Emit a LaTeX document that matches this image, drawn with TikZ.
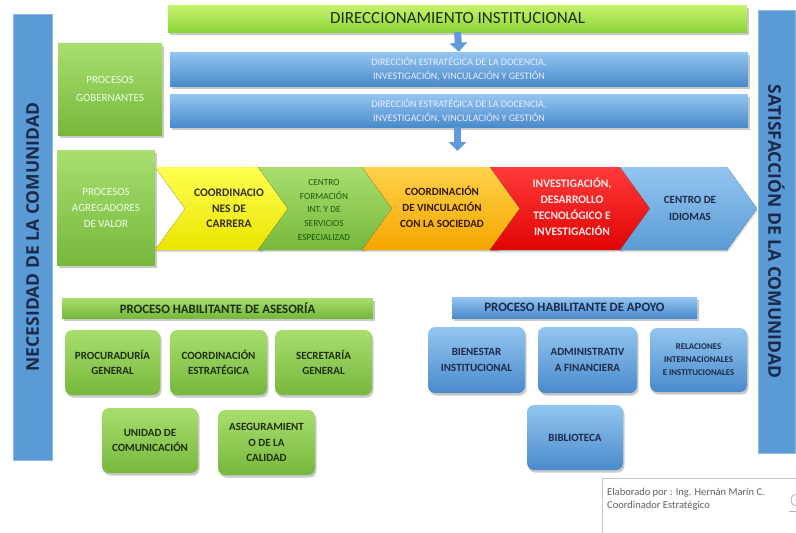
\documentclass[tikz,border=0pt]{standalone}
\usepackage{fontspec}
\setmainfont{Carlito}
\newfontfamily\widefont{Open Sans}
\usetikzlibrary{shadows,arrows.meta}
\newcommand\fsz[2]{\fontsize{#1}{#2}\selectfont}
\definecolor{barblue}{HTML}{5B9BD5}
\definecolor{navy}{HTML}{1B2A4A}
\definecolor{gtop}{HTML}{A9DE6E}
\definecolor{gbot}{HTML}{76B83C}
\definecolor{ltop}{HTML}{C8F26C}
\definecolor{lbot}{HTML}{8CD63A}
\definecolor{btop}{HTML}{93C6F0}
\definecolor{bbot}{HTML}{4A8ACB}
\definecolor{darkg}{HTML}{1F2E10}
\definecolor{ytop}{HTML}{FFFF50}
\definecolor{ybot}{HTML}{EAE400}
\definecolor{otop}{HTML}{FFD24A}
\definecolor{obot}{HTML}{F5A600}
\definecolor{rtop}{HTML}{FF3A3A}
\definecolor{rbot}{HTML}{E00404}
\definecolor{arrblue}{HTML}{5E9BD8}
\newcommand\chev[4]{% L, W, top color, bottom color
  \fill[top color=#3,bottom color=#4,drop shadow={shadow xshift=1pt,shadow yshift=-2pt,opacity=0.25}]
   (#1,167) -- ({#1+#2},167) -- ({#1+#2+30},208.5) -- ({#1+#2},250) -- (#1,250) -- ({#1+30},208.5) -- cycle;}
\begin{document}
\begin{tikzpicture}[x=1pt,y=-1pt,
  shd/.style={drop shadow={shadow xshift=1.5pt,shadow yshift=-2.5pt,opacity=0.3,fill=black!70}},
  gfill/.style={top color=gtop,bottom color=gbot},
  bfill/.style={top color=btop,bottom color=bbot},
  sidebar/.style={fill=barblue,draw=barblue!70!white,line width=0.6pt,inner sep=0pt},
  sidetext/.style={text=navy,font=\widefont\bfseries\fsz{17.5}{20}},
  gsq/.style={gfill,shd,inner sep=0pt,text=white!92!green,align=center,font=\fsz{11}{16}},
  bbar/.style={bfill,shd,inner sep=0pt,text=white!92!blue,align=center,font=\fsz{10}{14}},
  gbox/.style={gfill,shd,rounded corners=7pt,inner sep=0pt,text=darkg,align=center,font=\bfseries\fsz{11}{14.5}},
  bbox/.style={bfill,shd,rounded corners=7pt,inner sep=0pt,text=navy,align=center,font=\bfseries\fsz{11}{16}},
  chevtext/.style={align=center,inner sep=0pt},
  blockarrow/.style={line width=7pt,draw=arrblue,-{Triangle[width=17pt,length=9pt]}}
]
\useasboundingbox (0,0) rectangle (796,533);
\clip (0,0) rectangle (796,533);

% side bars
\node[sidebar,minimum width=39pt,minimum height=446pt] (lbar) at (32.5,237) {};
\node[sidetext,rotate=90] (ltext) at (lbar.center) {NECESIDAD DE LA COMUNIDAD};
\node[sidebar,minimum width=37pt,minimum height=443pt] (rbar) at (776.5,231.5) {};
\node[sidetext,rotate=-90] (rtext) at (rbar.center) {SATISFACCIÓN DE LA COMUNIDAD};

% top
\node[top color=ltop,bottom color=lbot,shd,inner sep=0pt,minimum width=579pt,minimum height=27pt,
      text=darkg,font=\fsz{17}{19}] (top) at (457.5,18.5) {DIRECCIONAMIENTO INSTITUCIONAL};
\node[bbar,minimum width=578pt,minimum height=34pt] (b1) at (459,69)
  {DIRECCIÓN ESTRATÉGICA DE LA DOCENCIA,\\INVESTIGACIÓN, VINCULACIÓN Y GESTIÓN};
\node[bbar,minimum width=578pt,minimum height=33pt] (b2) at (459,110.5)
  {DIRECCIÓN ESTRATÉGICA DE LA DOCENCIA,\\INVESTIGACIÓN, VINCULACIÓN Y GESTIÓN};
\coordinate (a2end) at (457.5,151);
\draw[blockarrow] (top.south) -- (b1.north);
\draw[blockarrow] (b2.south -| top.south) -- (a2end);

\node[gsq,minimum width=104pt,minimum height=92pt,font=\fsz{11}{18}] (gob) at (110,89) {PROCESOS\\GOBERNANTES};
\node[gsq,minimum width=98pt,minimum height=115pt] (agr) at (106,207.5) {PROCESOS\\AGREGADORES\\DE VALOR};

% chevrons  (top 167, bottom 250, mid 208.5)
\chev{155}{107}{ytop}{ybot}
\chev{258}{106}{gtop}{gbot}
\chev{362}{136}{otop}{obot}
\chev{490}{132}{rtop}{rbot}
\chev{620}{107}{btop}{barblue}
\node[chevtext,text=black!85!olive,font=\bfseries\fsz{11.5}{15.5}] (c1) at (229,208.5) {COORDINACIO\\NES DE\\CARRERA};
\node[chevtext,text=darkg!80!green,font=\fsz{9.3}{13.7}] (c2) at (324,210) {CENTRO\\FORMACIÓN\\INT. Y DE\\SERVICIOS\\ESPECIALIZAD};
\node[chevtext,text=black!80!orange,font=\bfseries\fsz{11}{16}] (c3) at (442,206.5) {COORDINACIÓN\\DE VINCULACIÓN\\CON LA SOCIEDAD};
\node[chevtext,text=red!8!white,font=\bfseries\fsz{11.5}{16}] (c4) at (572,206.5) {INVESTIGACIÓN,\\DESARROLLO\\TECNOLÓGICO E\\INVESTIGACIÓN};
\node[chevtext,text=navy,font=\bfseries\fsz{11}{17}] (c5) at (690,208.5) {CENTRO DE\\IDIOMAS};

% asesoria
\node[gfill,shd,inner sep=0pt,minimum width=311pt,minimum height=20pt,text=darkg,font=\bfseries\fsz{12.8}{14}] (ases) at (217.5,308) {PROCESO HABILITANTE DE ASESORÍA};
\node[gbox,minimum width=95pt,minimum height=65pt] (procu) at (112.5,362.5) {PROCURADURÍA\\GENERAL};
\node[gbox,minimum width=97pt,minimum height=65pt] (coord) at (218.5,362.5) {COORDINACIÓN\\ESTRATÉGICA};
\node[gbox,minimum width=97pt,minimum height=65pt] (secre) at (323.5,362.5) {SECRETARÍA\\GENERAL};
\node[gbox,minimum width=96pt,minimum height=65pt,font=\bfseries\fsz{11}{15}] (unid) at (150,440.5) {UNIDAD DE\\COMUNICACIÓN};
\node[gbox,minimum width=97pt,minimum height=65pt,font=\bfseries\fsz{11}{15.5}] (asegu) at (266.5,442.5) {ASEGURAMIENT\\O DE LA\\CALIDAD};

% apoyo
\node[bfill,shd,inner sep=0pt,minimum width=245pt,minimum height=21pt,text=navy,font=\bfseries\fsz{12.8}{14}] (apoyo) at (574.5,307.5) {PROCESO HABILITANTE DE APOYO};
\node[bbox,minimum width=97pt,minimum height=66pt] (bien) at (476.5,360) {BIENESTAR\\INSTITUCIONAL};
\node[bbox,minimum width=99pt,minimum height=66pt] (admin) at (587.5,360) {ADMINISTRATIV\\A FINANCIERA};
\node[bbox,minimum width=97pt,minimum height=64pt,font=\bfseries\fsz{8.8}{13}] (relac) at (698.5,360) {RELACIONES\\INTERNACIONALES\\E INSTITUCIONALES};
\node[bbox,minimum width=96pt,minimum height=65pt] (biblio) at (575,437.5) {BIBLIOTECA};

% credit
\node[draw=gray!45,fill=white,line width=0.8pt,minimum width=210pt,minimum height=64pt,inner sep=0pt] (credit) at (707,510) {};
\node[anchor=west,align=left,inner sep=0pt,text=gray!75!black,font=\fsz{10.5}{13}] (credtxt) at (607,499.5) {Elaborado por : Ing. Hernán Marín C.\\Coordinador Estratégico};
\draw[gray!60,line width=0.8pt] (797,500) circle (6);
\draw[gray!60,line width=0.8pt] (789,511) -- (796,511);
\end{tikzpicture}
\end{document}
